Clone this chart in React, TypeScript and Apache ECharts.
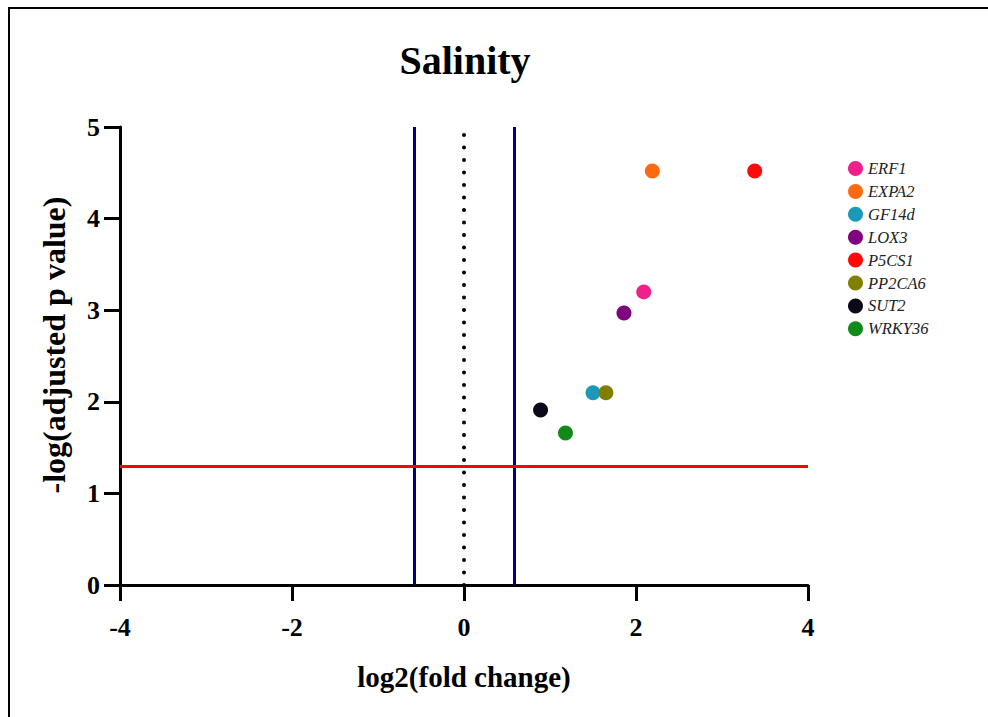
import React, { useEffect, useRef } from "react";
import * as echarts from "echarts";

const genes = ["ERF1", "EXPA2", "GF14d", "LOX3", "P5CS1", "PP2CA6", "SUT2", "WRKY36"];
const log2FC = [2.09, 2.19, 1.5, 1.86, 3.38, 1.65, 0.89, 1.18];
const negLogP = [3.2, 4.52, 2.1, 2.97, 4.52, 2.1, 1.91, 1.66];
const colors = ["#f0208a", "#ff6a10", "#1a9ab8", "#800080", "#ff0a0a", "#808000", "#0a0a1a", "#108a18"];
const fcThreshold = [-0.58, 0.58];
const pThreshold = 1.3;
const xTicks = { min: -4, max: 4, interval: 2 };
const yTicks = { min: 0, max: 5, interval: 1 };

const SERIF = "'Liberation Serif', 'Times New Roman', serif";

export default function App() {
  const ref = useRef<HTMLDivElement>(null);
  useEffect(() => {
    if (!ref.current) return;
    const chart = echarts.init(ref.current, null, { renderer: "svg" });
    const pointSeries = genes.map((g, i) => ({
      name: g,
      type: "scatter",
      data: [[log2FC[i], negLogP[i]]],
      symbol: "circle",
      symbolSize: 15,
      itemStyle: { color: colors[i], opacity: 1 },
      z: 5,
    }));
    chart.setOption({
      animation: false,
      backgroundColor: "#ffffff",
      title: {
        text: "Salinity",
        left: 460,
        top: 35,
        textAlign: "center",
        textStyle: { fontFamily: SERIF, fontWeight: "bold", fontSize: 40, color: "#000" },
      },
      graphic: [
        {
          type: "rect",
          shape: { x: 9, y: 8, width: 1000, height: 720 },
          style: { fill: "none", stroke: "#000", lineWidth: 2 },
          silent: true,
        },
      ],
      legend: {
        orient: "vertical",
        left: 843,
        top: 155,
        icon: "circle",
        itemWidth: 15,
        itemHeight: 15,
        itemGap: 5.9,
        data: genes,
        textStyle: { fontFamily: SERIF, fontStyle: "italic", fontSize: 16.5, color: "#222" },
      },
      grid: { left: 120, right: 180, top: 127, bottom: 132, containLabel: false },
      xAxis: {
        type: "value",
        min: xTicks.min,
        max: xTicks.max,
        interval: xTicks.interval,
        name: "log2(fold change)",
        nameLocation: "middle",
        nameGap: 77,
        nameTextStyle: { fontFamily: SERIF, fontWeight: "bold", fontSize: 29, color: "#000" },
        axisLine: { show: true, onZero: false, lineStyle: { color: "#000", width: 3 } },
        axisTick: { show: true, length: 16, lineStyle: { color: "#000", width: 3 } },
        axisLabel: { margin: 29, fontFamily: SERIF, fontWeight: "bold", fontSize: 26, color: "#000" },
        splitLine: { show: false },
      },
      yAxis: {
        type: "value",
        min: yTicks.min,
        max: yTicks.max,
        interval: yTicks.interval,
        name: "-log(adjusted p value)",
        nameLocation: "middle",
        nameGap: 50,
        nameTextStyle: {
          fontFamily: SERIF,
          fontWeight: "bold",
          fontSize: 32,
          color: "#000",
          padding: [0, 0, 0, 22],
        },
        axisLine: { show: true, onZero: false, lineStyle: { color: "#000", width: 3 } },
        axisTick: { show: true, length: 16, lineStyle: { color: "#000", width: 3 } },
        axisLabel: { margin: 20, fontFamily: SERIF, fontWeight: "bold", fontSize: 26, color: "#000" },
        splitLine: { show: false },
      },
      series: [
        {
          name: "thresholds",
          type: "scatter",
          data: [],
          silent: true,
          markLine: {
            silent: true,
            symbol: "none",
            label: { show: false },
            animation: false,
            data: [
              { xAxis: fcThreshold[0], lineStyle: { color: "#000080", width: 3, type: "solid" } },
              { xAxis: fcThreshold[1], lineStyle: { color: "#000080", width: 3, type: "solid" } },
              { xAxis: 0, lineStyle: { color: "#000", width: 4, type: [0.1, 12.4], cap: "round" } },
              { yAxis: pThreshold, lineStyle: { color: "#ff0000", width: 3, type: "solid" } },
            ],
          },
        },
        ...pointSeries,
      ],
    });
    return () => chart.dispose();
  }, []);
  return (
    <div
      ref={ref}
      style={{ position: "fixed", left: 0, top: 0, width: 988, height: 717, background: "#fff" }}
    />
  );
}
